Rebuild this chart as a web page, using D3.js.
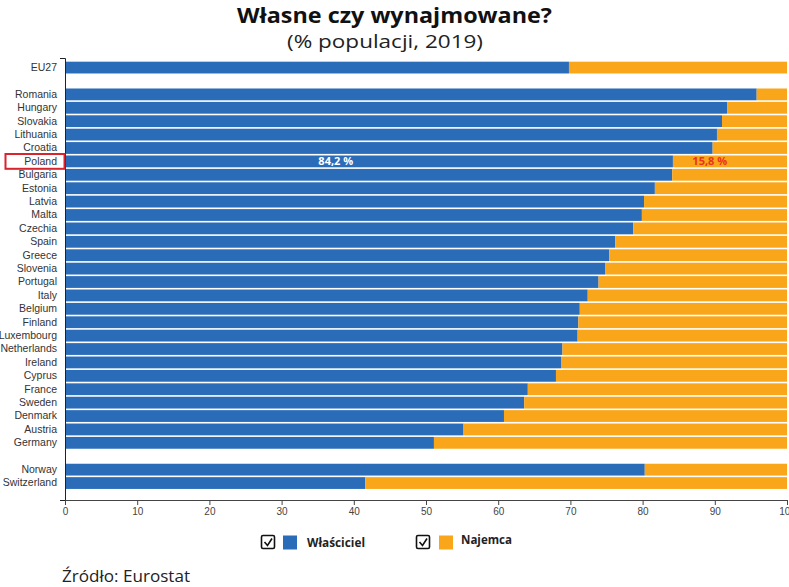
<!DOCTYPE html>
<html>
<head>
<meta charset="utf-8">
<script src="https://cdn.jsdelivr.net/npm/d3@7/dist/d3.min.js"></script>
<style>
  html, body { margin: 0; padding: 0; background: #fff; overflow: hidden; }
  svg { display: block; }
</style>
</head>
<body>
<script>
// ---- data ----
const categories = ["EU27", "_gap1",
  "Romania", "Hungary", "Slovakia", "Lithuania", "Croatia", "Poland", "Bulgaria",
  "Estonia", "Latvia", "Malta", "Czechia", "Spain", "Greece", "Slovenia", "Portugal",
  "Italy", "Belgium", "Finland", "Luxembourg", "Netherlands", "Ireland", "Cyprus",
  "France", "Sweden", "Denmark", "Austria", "Germany", "_gap2",
  "Norway", "Switzerland"];
const owners = [69.8, null,
  95.8, 91.7, 91.0, 90.3, 89.7, 84.2, 84.1,
  81.7, 80.2, 79.9, 78.7, 76.2, 75.4, 74.8, 73.9,
  72.4, 71.3, 71.1, 71.0, 68.9, 68.7, 68.0,
  64.1, 63.6, 60.8, 55.2, 51.1, null,
  80.3, 41.6];
const tenants = owners.map(v => v == null ? null : +(100 - v).toFixed(1));
const xTicks = [0, 10, 20, 30, 40, 50, 60, 70, 80, 90, 100];
const seriesNames = ["Właściciel", "Najemca"];
const highlight = "Poland";
const highlightLabels = ["84,2 %", "15,8 %"];
const highlightLabelAt = [37.5, 89.3];

const colors = { owner: "#2b6cb9", tenant: "#faa61a" };

const W = 789, H = 587;
const svg = d3.select("body").append("svg").attr("width", W).attr("height", H);

const x = d3.scaleLinear().domain([0, 100]).range([65, 787]);
const y = d3.scaleBand().domain(categories).range([58, 500])
  .paddingInner(0.12).paddingOuter(0.55).align(0.25);

const rows = categories.map((c, i) => ({ c, o: owners[i], t: tenants[i] }))
  .filter(d => d.o != null);

// bars
svg.append("g").selectAll("rect.own").data(rows).join("rect")
  .attr("x", x(0)).attr("y", d => y(d.c))
  .attr("width", d => x(d.o) - x(0)).attr("height", y.bandwidth())
  .attr("fill", colors.owner);
svg.append("g").selectAll("rect.ten").data(rows).join("rect")
  .attr("x", d => x(d.o)).attr("y", d => y(d.c))
  .attr("width", d => x(d.o + d.t) - x(d.o)).attr("height", y.bandwidth())
  .attr("fill", colors.tenant);

// y axis
const yAxis = svg.append("g").attr("transform", `translate(${x(0)},0)`)
  .call(d3.axisLeft(y).tickSizeInner(0).tickSizeOuter(5).tickPadding(8)
    .tickFormat(d => d.startsWith("_") ? "" : d));
yAxis.select(".domain").attr("stroke", "#222");
yAxis.selectAll("text").attr("font-family", "Liberation Sans, Arial, sans-serif")
  .attr("font-size", 10.5).attr("fill", "#333");

// x axis
const xAxis = svg.append("g").attr("transform", `translate(0,${y.range()[1]})`)
  .call(d3.axisBottom(x).tickValues(xTicks).tickSizeInner(5).tickSizeOuter(0).tickPadding(3));
xAxis.select(".domain").attr("stroke", "#444");
xAxis.selectAll("line").attr("stroke", "#444");
xAxis.selectAll("text").attr("font-family", "Liberation Sans, Arial, sans-serif")
  .attr("font-size", 10).attr("fill", "#444");

// highlight box around Poland label
const py = y(highlight);
svg.append("rect").attr("x", 5.5).attr("y", py - 1.5)
  .attr("width", 59).attr("height", y.bandwidth() + 3)
  .attr("fill", "none").attr("stroke", "#d9232d").attr("stroke-width", 2);

// Poland value labels
svg.append("text").attr("x", x(highlightLabelAt[0])).attr("y", py + y.bandwidth() / 2 + 4)
  .attr("text-anchor", "middle").attr("font-family", "Open Sans, sans-serif")
  .attr("font-weight", "bold").attr("font-size", 11).attr("fill", "#ffffff")
  .text(highlightLabels[0]);
svg.append("text").attr("x", x(highlightLabelAt[1])).attr("y", py + y.bandwidth() / 2 + 4)
  .attr("text-anchor", "middle").attr("font-family", "Open Sans, sans-serif")
  .attr("font-weight", "bold").attr("font-size", 11).attr("fill", "#e8331f")
  .text(highlightLabels[1]);

// title
svg.append("text").attr("x", 394.5).attr("y", 23).attr("text-anchor", "middle")
  .attr("font-family", "Open Sans, sans-serif").attr("font-weight", "bold")
  .attr("font-size", 21).attr("fill", "#111")
  .attr("textLength", 315).attr("lengthAdjust", "spacingAndGlyphs")
  .text("Własne czy wynajmowane?");
svg.append("text").attr("x", 385).attr("y", 48).attr("text-anchor", "middle")
  .attr("font-family", "Open Sans, sans-serif")
  .attr("font-size", 19).attr("fill", "#222")
  .attr("textLength", 196).attr("lengthAdjust", "spacingAndGlyphs")
  .text("(% populacji, 2019)");

// legend
const legend = svg.append("g");
const legendItems = [
  { name: seriesNames[0], color: colors.owner, bx: 261, sx: 283, tx: 307, ty: 547, tw: 58 },
  { name: seriesNames[1], color: colors.tenant, bx: 416, sx: 439, tx: 461, ty: 544, tw: 51 }
];
legendItems.forEach(it => {
  const g = legend.append("g");
  g.append("rect").attr("x", it.bx + 0.5).attr("y", 535.5).attr("width", 13).attr("height", 13)
    .attr("rx", 1.5).attr("fill", "#fff").attr("stroke", "#111").attr("stroke-width", 1.6);
  g.append("path").attr("d", `M${it.bx + 3.5},${542} L${it.bx + 6.5},${545.5} L${it.bx + 11},${538.5}`)
    .attr("fill", "none").attr("stroke", "#111").attr("stroke-width", 1.6);
  g.append("rect").attr("x", it.sx).attr("y", 535.5).attr("width", 14).attr("height", 14)
    .attr("fill", it.color);
  g.append("text").attr("x", it.tx).attr("y", it.ty)
    .attr("font-family", "Open Sans, sans-serif").attr("font-weight", "bold")
    .attr("font-size", 11.5).attr("fill", "#222")
    .attr("textLength", it.tw).attr("lengthAdjust", "spacingAndGlyphs")
    .text(it.name);
});

// source
svg.append("text").attr("x", 62).attr("y", 582)
  .attr("font-family", "Open Sans, sans-serif").attr("font-size", 17).attr("fill", "#222")
  .attr("textLength", 128).attr("lengthAdjust", "spacingAndGlyphs")
  .text("Źródło: Eurostat");
</script>
</body>
</html>
